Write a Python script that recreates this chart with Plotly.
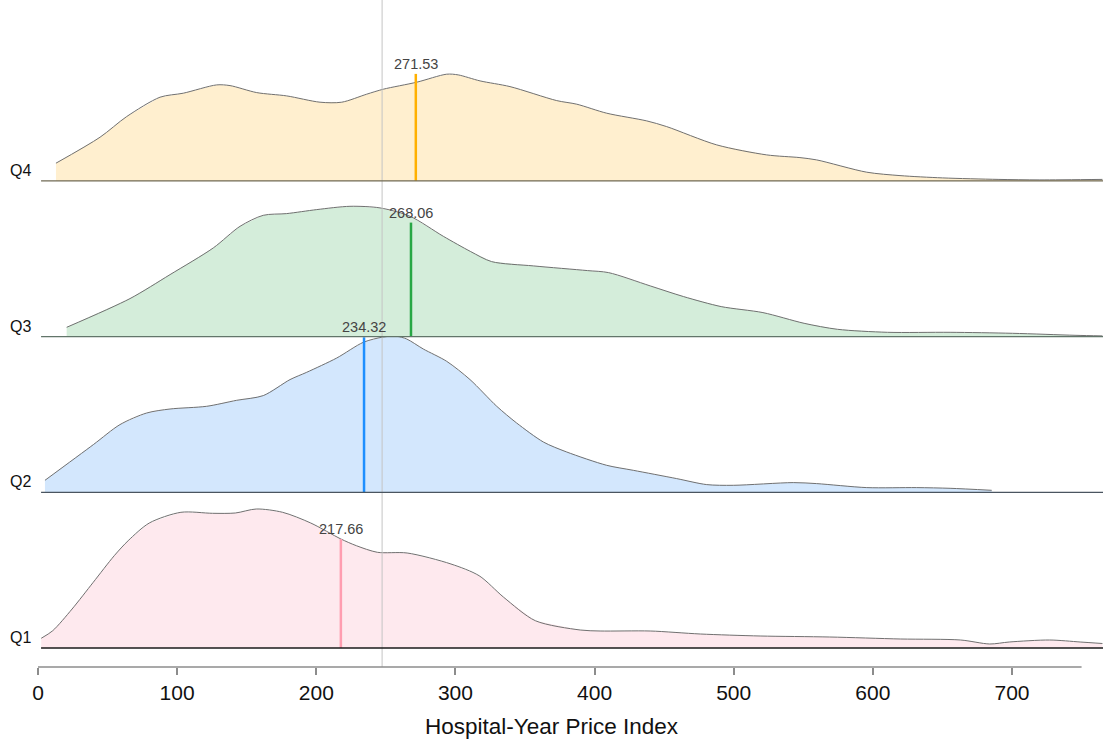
import plotly.graph_objects as go

# ---------------- data ----------------
groups = ["Q1", "Q2", "Q3", "Q4"]

x_q1 = [2.3, 10.6, 24.5, 39.7, 54.8, 64.8, 80, 102.7, 125.4, 141.8, 156.9, 175.8, 196, 217.7, 228.8,
        243.9, 265.3, 296.8, 317, 334.7, 357.4, 389.7, 404, 440, 476, 519, 569, 620, 663, 684, 698,
        727, 749, 765]
d_q1 = [9.7, 17.3, 39, 65.7, 92.3, 107.3, 125, 135.7, 134.7, 135, 139, 135.7, 125, 109, 102.3,
        95.7, 95, 84, 72.3, 50.7, 27.3, 18, 17, 17, 14, 12, 11, 9, 8, 4, 6, 8, 6, 4.5]

x_q2 = [5, 39.8, 58.9, 78.1, 94.9, 121.2, 142.8, 161.9, 181.1, 193.1, 214.7, 233.8, 248.2, 257.8,
        265, 276.9, 293.7, 310.5, 329.7, 344, 363.2, 380, 408.7, 427.8, 459, 480.6, 499.7,
        542.8, 559.6, 595.6, 631.5, 655.5, 685.4]
d_q2 = [12, 47.7, 67.7, 79.3, 83.3, 86, 92, 96.7, 112.7, 120, 134.3, 150, 155.3, 156,
        153.3, 143.3, 131, 112.7, 86, 69.3, 50.3, 40.3, 27, 22, 13.7, 7.7, 7,
        9.7, 8.7, 4.7, 4.7, 4, 2]

x_q3 = [20.6, 66.1, 94.9, 126, 145.2, 161.9, 178.7, 200.3, 224.2, 245.8, 267.4, 291.3, 311, 326,
        356, 395, 410, 440, 464, 491, 521, 550.6, 574.6, 610.5, 655.5, 700.4, 745.3, 765]
d_q3 = [9.3, 38, 62, 88.7, 110.3, 121.3, 123, 127, 130.3, 128.7, 120.3, 100.3, 85, 75,
        70.7, 66, 64, 50.7, 40, 30, 24, 13.3, 7.3, 4.3, 4.3, 3.3, 1.3, 0.7]

x_q4 = [12.9, 44.6, 63.7, 87.7, 104.4, 128.4, 138, 157.2, 178.7, 202.7, 218.3, 236.2, 248.2, 272.2,
        293.7, 302, 317.7, 339.2, 372.8, 387.2, 408.7, 437.5, 451.8, 487.8, 523.7, 547.6, 559.6,
        595.6, 619.5, 650, 690, 720, 765]
d_q4 = [17.7, 43.7, 64.3, 83.7, 87.7, 96, 95.3, 88.3, 85, 78.7, 78.7, 86.7, 91.7, 98.7,
        106.7, 106, 100, 94.3, 80.3, 76.7, 67.7, 60, 54.3, 36, 26, 23.3, 21,
        8.7, 5.3, 3, 1.5, 1, 1.5]

medians = [217.66, 234.32, 268.06, 271.53]
median_density = [109, 155, 114, 107]
overall_ref = 247.3

tick_vals = [0, 100, 200, 300, 400, 500, 600, 700]
x_title = "Hospital-Year Price Index"

# ---------------- styling ----------------
fill_colors = ["#FEE9EE", "#D3E7FD", "#D4EDDA", "#FFEFCF"]
median_colors = ["#FF9DB0", "#1E8FFF", "#28A745", "#FFB000"]
base_colors = ["#1a1a1a", "#4a5560", "#62756a", "#706a55"]
SCALE = 1 / 155.7          # density units -> row units (row spacing = 1)
XMAX = 765.4
AXIS_END = 750
FONT = "Liberation Sans, Arial"

xs = [x_q1, x_q2, x_q3, x_q4]
ds = [d_q1, d_q2, d_q3, d_q4]

fig = go.Figure()

for k in range(4):
    x = xs[k]
    y = [k + v * SCALE for v in ds[k]]
    fig.add_trace(go.Scatter(
        x=x + [x[-1], x[0]], y=y + [k, k],
        mode="lines", fill="toself", fillcolor=fill_colors[k],
        line=dict(width=0, color=fill_colors[k]), hoverinfo="skip", showlegend=False))
    fig.add_trace(go.Scatter(
        x=x, y=y, mode="lines",
        line=dict(color="#707070", width=1, shape="spline", smoothing=0.8),
        hoverinfo="skip", showlegend=False))

fig.add_shape(type="line", x0=overall_ref, x1=overall_ref, y0=0, y1=1,
              xref="x", yref="paper", line=dict(color="#c4c4c4", width=1), layer="above")

for k in range(4):
    fig.add_shape(type="line", x0=2.2, x1=XMAX, y0=k, y1=k, xref="x", yref="y",
                  line=dict(color=base_colors[k], width=1.3), layer="above")
    top = k + median_density[k] * SCALE
    fig.add_trace(go.Scatter(
        x=[medians[k], medians[k]], y=[k, top], mode="lines",
        line=dict(color=median_colors[k], width=2.5), hoverinfo="skip", showlegend=False))
    fig.add_annotation(x=medians[k], y=top, text=f"{medians[k]:.2f}", showarrow=False,
                       xanchor="center", yanchor="bottom", yshift=0,
                       font=dict(family=FONT, size=14.5, color="#444444"))
    fig.add_annotation(xref="paper", x=-30 / 1065, y=k, text=groups[k], showarrow=False,
                       xanchor="left", yanchor="bottom", yshift=0,
                       font=dict(family=FONT, size=16, color="#111111"))

fig.add_shape(type="line", x0=0, x1=AXIS_END, y0=0, y1=0, xref="x", yref="paper",
              line=dict(color="#8c8c8c", width=1.5), layer="above")

fig.add_annotation(xref="paper", yref="paper", x=(551.5 - 38) / 1065, y=-59 / 667,
                   text=x_title, showarrow=False, xanchor="center", yanchor="middle",
                   font=dict(family=FONT, size=22.5, color="#111111"))

fig.update_layout(
    width=1103, height=740,
    margin=dict(l=38, r=0, t=0, b=73),
    paper_bgcolor="white", plot_bgcolor="white",
    xaxis=dict(range=[0, XMAX], tickvals=tick_vals, ticks="outside", ticklen=7,
               tickcolor="#8c8c8c", tickwidth=1.5, showgrid=False, zeroline=False,
               showline=False, tickfont=dict(family=FONT, size=21, color="#111111")),
    yaxis=dict(range=[-19 / 155.7, 648 / 155.7], showgrid=False, zeroline=False,
               showticklabels=False, showline=False),
)

fig.write_html("out.html", config={"displayModeBar": False},
               post_script="document.body.style.margin='0';document.body.style.padding='0';"
                           "document.body.style.overflow='hidden';")
